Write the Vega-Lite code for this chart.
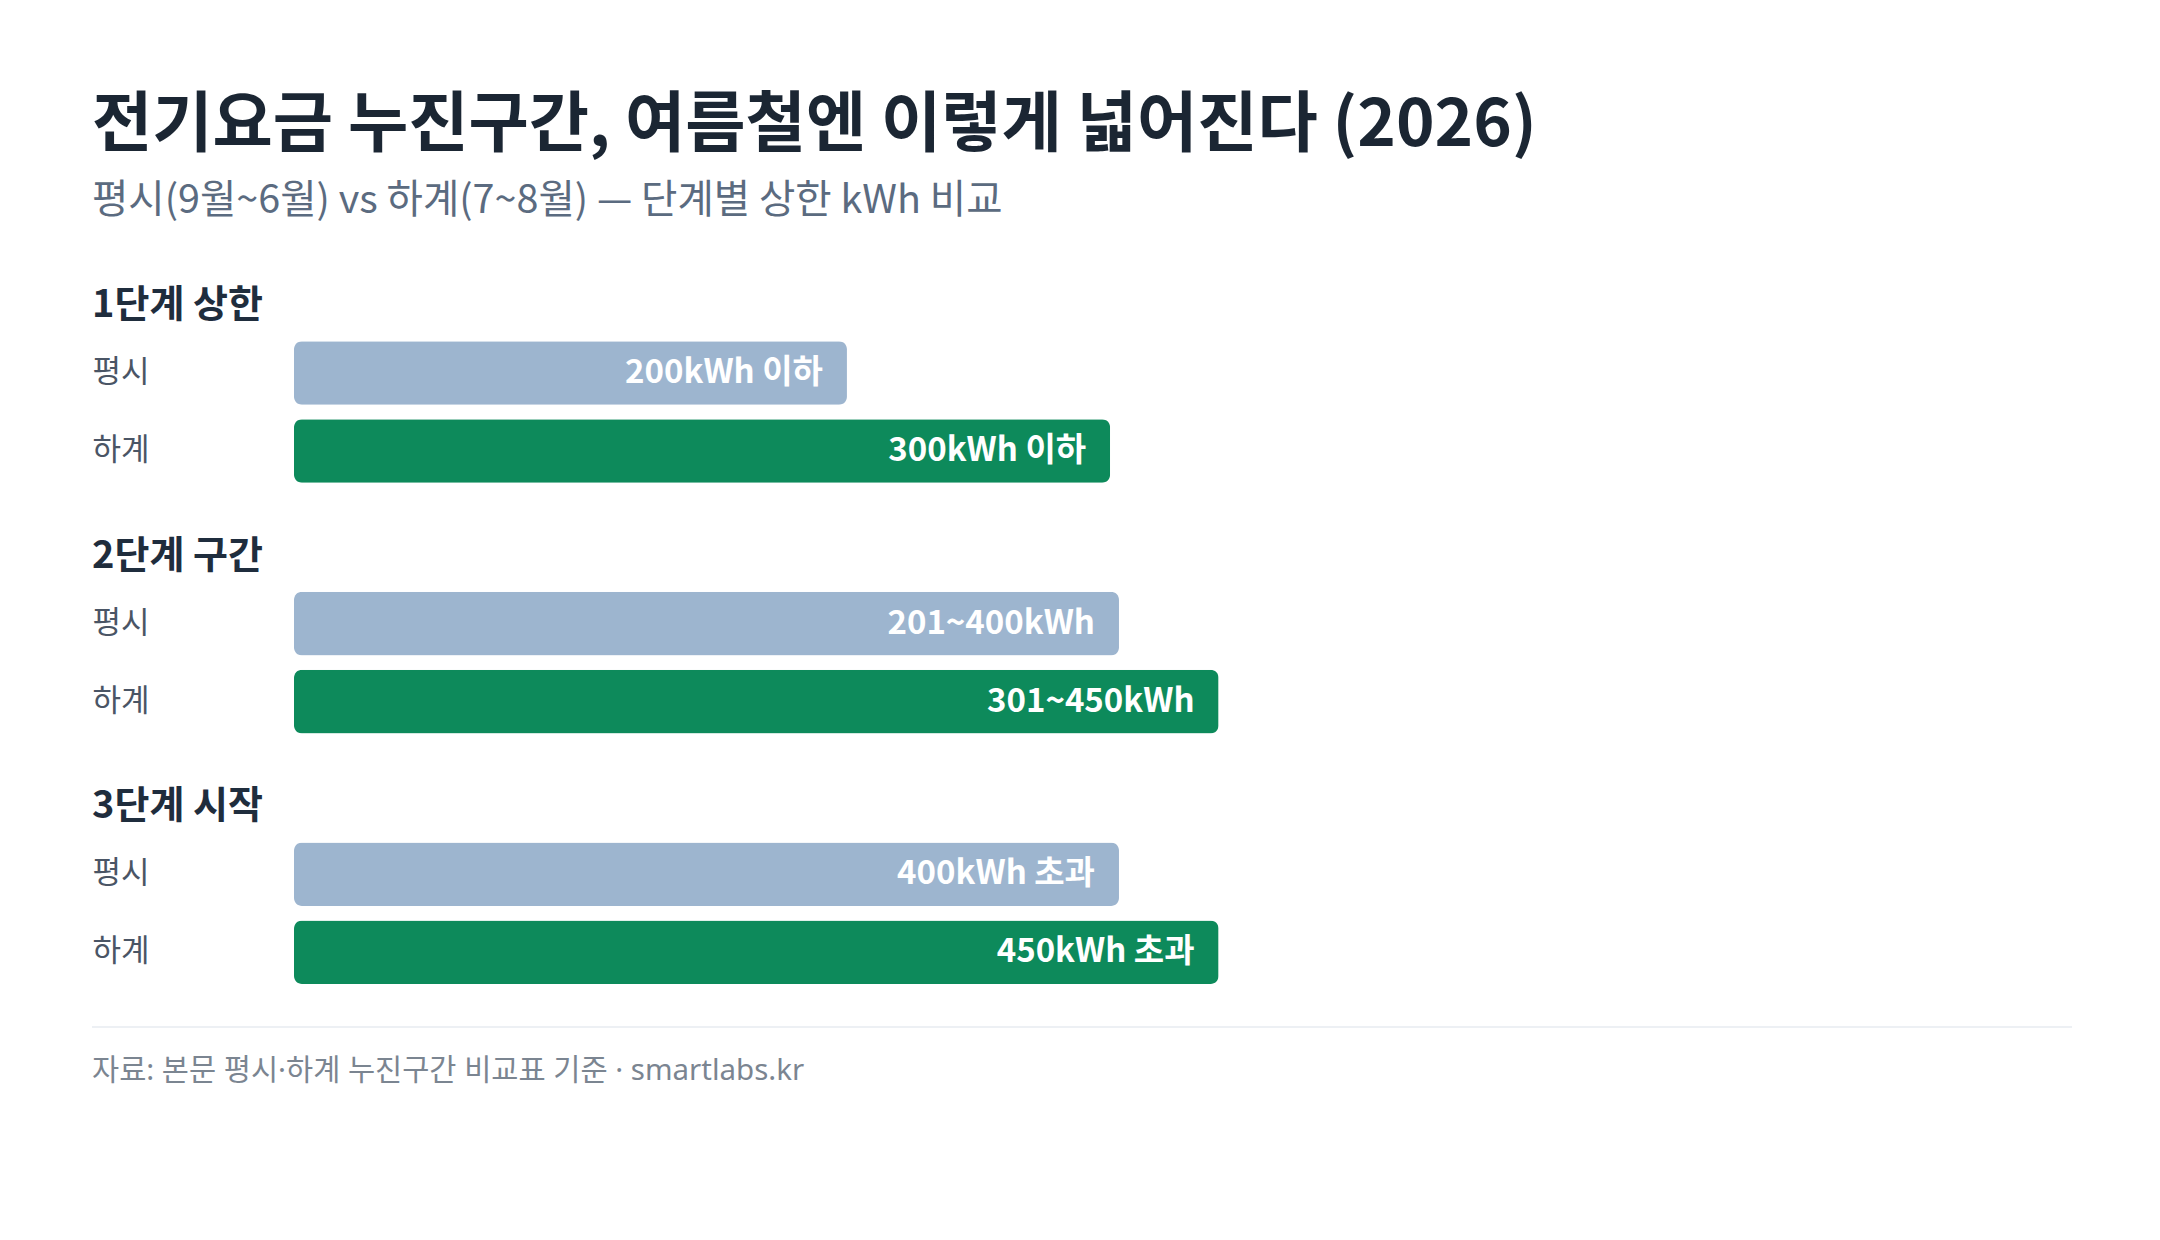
{
  "$schema": "https://vega.github.io/schema/vega-lite/v6.json",
  "background": "white",
  "padding": {"left": 91, "top": 94, "right": 89, "bottom": 40},
  "title": {
    "text": "전기요금 누진구간, 여름철엔 이렇게 넓어진다 (2026)",
    "subtitle": "평시(9월~6월) vs 하계(7~8월) — 단계별 상한 kWh 비교",
    "anchor": "start",
    "fontSize": 65.5,
    "fontWeight": "bold",
    "color": "#1b2633",
    "subtitleFontSize": 39.5,
    "subtitleColor": "#5b6b80",
    "subtitlePadding": 22,
    "offset": 67
  },
  "datasets": {
    "tiers": [
      {"tier": "1단계 상한", "season": "평시", "kwh": 200, "len": 31.1, "label": "200kWh 이하"},
      {"tier": "1단계 상한", "season": "하계", "kwh": 300, "len": 45.9, "label": "300kWh 이하"},
      {"tier": "2단계 구간", "season": "평시", "kwh": 400, "len": 46.4, "label": "201~400kWh"},
      {"tier": "2단계 구간", "season": "하계", "kwh": 450, "len": 52.0, "label": "301~450kWh"},
      {"tier": "3단계 시작", "season": "평시", "kwh": 400, "len": 46.4, "label": "400kWh 초과"},
      {"tier": "3단계 시작", "season": "하계", "kwh": 450, "len": 52.0, "label": "450kWh 초과"}
    ]
  },
  "spacing": 34,
  "vconcat": [
    {
      "spacing": 94.6,
      "bounds": "flush",
      "vconcat": [
        {
          "title": {"text": "1단계 상한"},
          "width": 1778,
          "height": 156,
          "data": {"name": "tiers"},
          "transform": [{"filter": {"field": "tier", "equal": "1단계 상한"}}],
          "encoding": {
            "y": {"field": "season", "type": "nominal", "sort": ["평시", "하계"], "title": null}
          },
          "layer": [
            {
              "mark": {"type": "bar", "cornerRadius": 8},
              "encoding": {
                "x": {"field": "len", "type": "quantitative", "scale": {"domain": [0, 100]}, "axis": null},
                "color": {"field": "season", "type": "nominal", "legend": null},
                "tooltip": [{"field": "season"}, {"field": "label"}]
              }
            },
            {
              "mark": {"type": "text", "align": "right", "dx": -24, "baseline": "middle", "fontWeight": "bold", "fontSize": 33, "color": "white"},
              "encoding": {
                "x": {"field": "len", "type": "quantitative"},
                "text": {"field": "label"}
              }
            }
          ]
        },
        {
          "title": {"text": "2단계 구간"},
          "width": 1778,
          "height": 156,
          "data": {"name": "tiers"},
          "transform": [{"filter": {"field": "tier", "equal": "2단계 구간"}}],
          "encoding": {
            "y": {"field": "season", "type": "nominal", "sort": ["평시", "하계"], "title": null}
          },
          "layer": [
            {
              "mark": {"type": "bar", "cornerRadius": 8},
              "encoding": {
                "x": {"field": "len", "type": "quantitative", "scale": {"domain": [0, 100]}, "axis": null},
                "color": {"field": "season", "type": "nominal", "legend": null},
                "tooltip": [{"field": "season"}, {"field": "label"}]
              }
            },
            {
              "mark": {"type": "text", "align": "right", "dx": -24, "baseline": "middle", "fontWeight": "bold", "fontSize": 33, "color": "white"},
              "encoding": {
                "x": {"field": "len", "type": "quantitative"},
                "text": {"field": "label"}
              }
            }
          ]
        },
        {
          "title": {"text": "3단계 시작"},
          "width": 1778,
          "height": 156,
          "data": {"name": "tiers"},
          "transform": [{"filter": {"field": "tier", "equal": "3단계 시작"}}],
          "encoding": {
            "y": {"field": "season", "type": "nominal", "sort": ["평시", "하계"], "title": null}
          },
          "layer": [
            {
              "mark": {"type": "bar", "cornerRadius": 8},
              "encoding": {
                "x": {"field": "len", "type": "quantitative", "scale": {"domain": [0, 100]}, "axis": null},
                "color": {"field": "season", "type": "nominal", "legend": null},
                "tooltip": [{"field": "season"}, {"field": "label"}]
              }
            },
            {
              "mark": {"type": "text", "align": "right", "dx": -24, "baseline": "middle", "fontWeight": "bold", "fontSize": 33, "color": "white"},
              "encoding": {
                "x": {"field": "len", "type": "quantitative"},
                "text": {"field": "label"}
              }
            }
          ]
        }
      ]
    },
    {
      "width": 1778,
      "height": 2,
      "data": {"values": [{"from": -11.36, "to": 100}]},
      "mark": {"type": "rule", "color": "#edf0f4", "strokeWidth": 2},
      "encoding": {
        "x": {"field": "from", "type": "quantitative", "scale": {"domain": [0, 100]}, "axis": null},
        "x2": {"field": "to"}
      },
      "title": {
        "text": "자료: 본문 평시·하계 누진구간 비교표 기준 · smartlabs.kr",
        "orient": "bottom",
        "anchor": "start",
        "frame": "group",
        "dx": -202,
        "font": "Noto Sans, Noto Sans CJK KR",
        "fontSize": 29.5,
        "fontWeight": "normal",
        "color": "#7b8591",
        "baseline": "middle",
        "offset": 43
      }
    }
  ],
  "config": {
    "font": "Noto Sans CJK KR",
    "view": {"stroke": null},
    "scale": {"bandPaddingInner": 0.185, "bandPaddingOuter": 0.0925},
    "range": {"category": ["#9db5cf", "#0d8a5b"]},
    "axisY": {
      "domain": false,
      "ticks": false,
      "tickSize": 0,
      "grid": false,
      "labelAlign": "left",
      "labelBaseline": "middle",
      "labelPadding": 202,
      "labelFontSize": 31,
      "labelColor": "#4a5565"
    },
    "title": {
      "anchor": "start",
      "frame": "group",
      "dx": -202,
      "fontSize": 38,
      "fontWeight": "bold",
      "color": "#1f2d3d",
      "baseline": "middle",
      "offset": 9
    }
  }
}
